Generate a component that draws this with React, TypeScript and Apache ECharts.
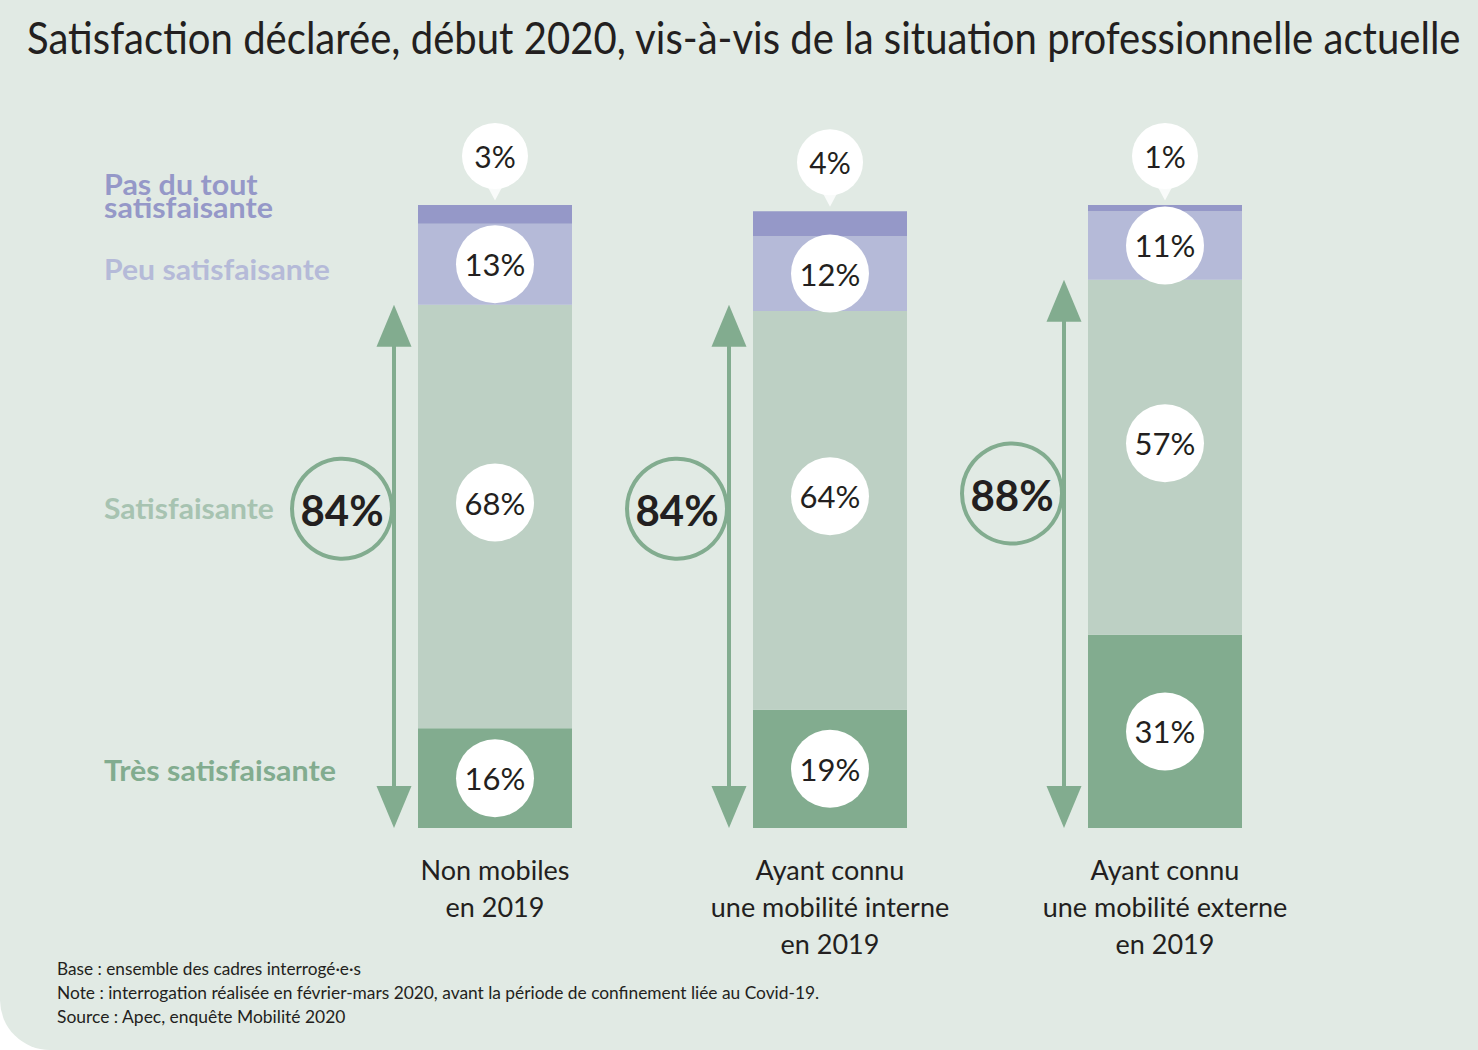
import React, { useEffect, useRef } from "react";
import * as echarts from "echarts";

const title = "Satisfaction déclarée, début 2020, vis-à-vis de la situation professionnelle actuelle";
const categories = [
  "Non mobiles\nen 2019",
  "Ayant connu\nune mobilité interne\nen 2019",
  "Ayant connu\nune mobilité externe\nen 2019",
];
const tresSatisfaisante = [16, 19, 31];
const satisfaisante = [68, 64, 57];
const peuSatisfaisante = [13, 12, 11];
const pasDuTout = [3, 4, 1];
const satisfiedTotals = [84, 84, 88];
const legendLabels = ["Pas du tout\nsatisfaisante", "Peu satisfaisante", "Satisfaisante", "Très satisfaisante"];
const footnotes = [
  "Base : ensemble des cadres interrogé·e·s",
  "Note : interrogation réalisée en février-mars 2020, avant la période de confinement liée au Covid-19.",
  "Source : Apec, enquête Mobilité 2020",
];

const BG = "#e1eae4";
const C_PAS = "#9598c8";
const C_PEU = "#b5bad8";
const C_SAT = "#bdd0c4";
const C_TRES = "#82ac8f";
const INK = "#231f20";
const FONT = "Lato, 'Noto Sans', sans-serif";

function measure(text: string, font: string): number {
  const c = document.createElement("canvas").getContext("2d");
  if (!c) return 1;
  c.font = font;
  return c.measureText(text).width || 1;
}

function fitText(text: string, x: number, y: number, width: number, size: number, weight: string, color: string, lineHeight?: number) {
  const lines = text.split("\n");
  const w = Math.max(...lines.map((l) => measure(l, `${weight} ${size}px Lato`)));
  return {
    type: "text",
    x,
    y,
    scaleX: width / w,
    originX: 0,
    originY: 0,
    style: {
      text,
      x: 0,
      y: 0,
      fill: color,
      fontSize: size,
      fontWeight: weight,
      fontFamily: FONT,
      lineHeight: lineHeight || size * 1.2,
      verticalAlign: "middle",
      align: "left",
    },
  };
}

function circleLabel(size: number, fontSize: number) {
  return {
    show: true,
    formatter: "{c}%",
    backgroundColor: "#ffffff",
    width: size,
    height: size,
    lineHeight: size,
    borderRadius: size / 2,
    align: "center",
    verticalAlign: "middle",
    fontSize,
    color: INK,
    fontFamily: FONT,
  };
}

export default function App() {
  const ref = useRef<HTMLDivElement>(null);
  useEffect(() => {
    if (!ref.current) return;
    const chart = echarts.init(ref.current, undefined, { renderer: "svg" });
    const totals = categories.map((_, i) => tresSatisfaisante[i] + satisfaisante[i] + peuSatisfaisante[i] + pasDuTout[i]);

    const graphics: any[] = [
      fitText(title, 27, 37, 1435, 44, "normal", INK),
      fitText(legendLabels[0], 104, 195, 169, 28, "bold", C_PAS, 23),
      fitText(legendLabels[1], 104, 269, 226, 28, "bold", C_PEU),
      fitText(legendLabels[2], 104, 508, 170, 28, "bold", "#a7c3b1"),
      fitText(legendLabels[3], 104, 770, 232, 28, "bold", C_TRES),
      ...footnotes.map((f, i) =>
        fitText(f, 57, 969 + i * 24, [304, 763, 289][i], 17, "normal", INK)
      ),
    ];

    chart.setOption({
      animation: false,
      backgroundColor: "transparent",
      graphic: graphics,
      grid: { left: 327.5, width: 1005, top: 205, height: 623 },
      xAxis: {
        type: "category",
        data: categories,
        axisLine: { show: false },
        axisTick: { show: false },
        axisLabel: {
          interval: 0,
          margin: 23,
          fontSize: 27,
          lineHeight: 37,
          color: INK,
          fontFamily: FONT,
        },
      },
      yAxis: { type: "value", min: 0, max: 100, show: false, splitLine: { show: false } },
      series: [
        {
          name: "Très satisfaisante",
          type: "bar",
          stack: "s",
          barWidth: 154,
          data: tresSatisfaisante,
          itemStyle: { color: C_TRES },
          label: { ...circleLabel(78, 31), position: "inside" },
        },
        {
          name: "Satisfaisante",
          type: "bar",
          stack: "s",
          barWidth: 154,
          data: satisfaisante,
          itemStyle: { color: C_SAT },
          label: { ...circleLabel(78, 31), position: "inside", offset: [0, -14] },
        },
        {
          name: "Peu satisfaisante",
          type: "bar",
          stack: "s",
          barWidth: 154,
          data: peuSatisfaisante,
          itemStyle: { color: C_PEU },
          label: { ...circleLabel(78, 31), position: "inside" },
        },
        {
          name: "Pas du tout satisfaisante",
          type: "bar",
          stack: "s",
          barWidth: 154,
          data: pasDuTout,
          itemStyle: { color: C_PAS },
          label: { ...circleLabel(66, 30), position: "top", distance: 0, offset: [0, -49] },
        },
        {
          type: "scatter",
          data: totals.map((t, i) => [i, t]),
          symbol: "triangle",
          symbolRotate: 180,
          symbolSize: [18, 17],
          symbolOffset: [0, -13],
          itemStyle: { color: "#ffffff" },
          z: 3,
          silent: true,
        },
        {
          type: "custom",
          data: satisfiedTotals.map((t, i) => [i, t]),
          z: 4,
          silent: true,
          renderItem: (params: any, api: any) => {
            const i = api.value(0);
            const v = api.value(1);
            const top = api.coord([i, v]);
            const bottom = api.coord([i, 0]);
            const x = top[0] - 101;
            const cx = x - 52;
            const cy = api.coord([i, v * 0.61])[1];
            return {
              type: "group",
              children: [
                {
                  type: "line",
                  shape: { x1: x, y1: top[1] + 30, x2: x, y2: bottom[1] - 30 },
                  style: { stroke: C_TRES, lineWidth: 4 },
                },
                {
                  type: "polygon",
                  shape: { points: [[x, top[1]], [x - 17.5, top[1] + 42], [x + 17.5, top[1] + 42]] },
                  style: { fill: C_TRES },
                },
                {
                  type: "polygon",
                  shape: { points: [[x, bottom[1]], [x - 17.5, bottom[1] - 42], [x + 17.5, bottom[1] - 42]] },
                  style: { fill: C_TRES },
                },
                {
                  type: "circle",
                  shape: { cx, cy, r: 50 },
                  style: { fill: BG, stroke: C_TRES, lineWidth: 4 },
                },
                {
                  type: "text",
                  style: {
                    text: v + "%",
                    x: cx,
                    y: cy + 1,
                    align: "center",
                    verticalAlign: "middle",
                    fontSize: 42,
                    fontWeight: "bold",
                    fontFamily: FONT,
                    fill: INK,
                  },
                },
              ],
            };
          },
        },
      ],
    });
    return () => chart.dispose();
  }, []);

  return (
    <div
      style={{
        position: "fixed",
        left: 0,
        top: 0,
        width: 1478,
        height: 1050,
        background: BG,
        borderBottomLeftRadius: 50,
        overflow: "hidden",
      }}
    >
      <div ref={ref} style={{ width: 1478, height: 1050 }} />
    </div>
  );
}
